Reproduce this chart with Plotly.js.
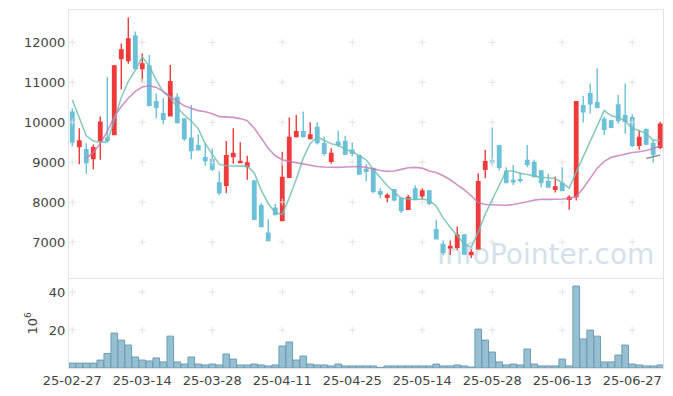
<!DOCTYPE html>
<html>
<head>
<meta charset="utf-8">
<script src="https://cdn.plot.ly/plotly-3.0.1.min.js"></script>
<style>html,body{margin:0;padding:0;background:#fff;}#chart{width:673px;height:396px;}</style>
</head>
<body>
<div id="chart"></div>
<script>
const dates = ["25-02-27","25-02-28","25-03-04","25-03-05","25-03-06","25-03-07","25-03-10","25-03-11","25-03-12","25-03-13",
"25-03-14","25-03-17","25-03-18","25-03-19","25-03-20","25-03-21","25-03-24","25-03-25","25-03-26","25-03-27",
"25-03-28","25-03-31","25-04-01","25-04-02","25-04-03","25-04-04","25-04-07","25-04-08","25-04-09","25-04-10",
"25-04-11","25-04-14","25-04-15","25-04-16","25-04-17","25-04-18","25-04-21","25-04-22","25-04-23","25-04-24",
"25-04-25","25-04-28","25-04-29","25-04-30","25-05-02","25-05-07","25-05-08","25-05-09","25-05-12","25-05-13",
"25-05-14","25-05-15","25-05-16","25-05-19","25-05-20","25-05-21","25-05-22","25-05-23","25-05-26","25-05-27",
"25-05-28","25-05-29","25-05-30","25-06-02","25-06-04","25-06-05","25-06-09","25-06-10","25-06-11","25-06-12",
"25-06-13","25-06-16","25-06-17","25-06-18","25-06-19","25-06-20","25-06-23","25-06-24","25-06-25","25-06-26",
"25-06-27","25-06-30","25-07-01","25-07-02","25-07-03"];

const openP = [10250,9390,9310,9090,9540,9600,9690,11590,11540,12160,
11340,11410,10510,10210,10160,10620,10080,9600,9410,9110,
9060,8480,8420,9140,8990,8890,8530,7910,7220,7850,
7540,8620,9640,9760,9590,9870,9460,9020,9500,9520,
9300,9160,8820,8840,8260,8120,8310,8090,7820,8330,
8160,8280,7310,6930,6860,6870,7180,6690,6830,8820,
9030,9410,8770,8540,8560,9040,8990,8780,8510,8320,
8470,8070,8140,10410,10710,10490,10070,10030,10430,10160,
10110,9420,9810,9470,9370];
const highP = [10350,9850,9470,9440,10140,11130,11430,11970,12620,12270,
11720,11680,10720,10600,11430,10720,10080,10430,9700,9460,
9350,8770,9530,9850,9500,9160,8530,7970,7570,7960,
9260,10120,10180,10270,10000,10000,9640,9350,9790,9660,
9490,9160,8960,8840,8350,8220,8330,8090,8180,8420,
8350,8310,7560,7040,7040,7390,7180,6820,8720,9310,
9870,9410,8870,8930,8740,9430,9060,8780,8710,8640,
8870,8170,10510,10660,10970,11350,10140,10060,10680,10970,
10200,9790,9850,9560,10010];
const lowP = [9390,8950,8710,8820,9060,9530,9680,10820,11460,11320,
10990,10390,10100,9950,10140,9970,9530,9070,9290,8910,
8780,8170,8220,8960,8970,8560,7570,7390,7040,7670,
7520,8620,9620,9620,9570,9440,9160,8960,9370,9180,
9140,8680,8520,8220,8100,8000,8020,7720,7810,8060,
8070,7930,7080,6680,6680,6810,6680,6600,6830,8600,
8910,8790,8470,8430,8490,8870,8620,8370,8380,8240,
8270,7810,8040,9990,10220,10350,9680,9850,9960,9710,
9370,9310,9420,8990,9320];
const closeP = [9500,9530,8990,9360,10000,9540,11410,11810,12080,11340,
11460,10420,10370,10070,11010,9990,9590,9290,9310,9040,
8830,8240,9160,9220,9020,8980,7570,7390,7040,7690,
8620,9620,9760,9640,9680,9490,9220,9220,9440,9200,
9220,8700,8770,8270,8200,8170,8060,7790,8120,8070,
8280,7970,7080,6740,6890,7170,6700,6740,8510,9010,
8990,8870,8490,8510,8540,8940,8640,8490,8380,8380,
8290,8120,10510,10260,10460,10370,9820,9870,10040,10020,
9420,9620,9450,9200,9950];

const maShort = [10560,10100,9660,9530,9500,9500,10060,10620,11020,11300,
11630,11400,11050,10750,10620,10360,10180,10030,9840,9460,
9200,8950,8910,8900,8900,8900,8730,8300,7960,7740,
7690,8110,8570,9100,9470,9630,9540,9460,9420,9320,
9260,9150,9060,8820,8610,8410,8250,8100,8080,8060,
8080,8050,7900,7600,7370,7160,6950,6870,7250,7700,
8050,8430,8780,8780,8720,8690,8650,8620,8610,8590,
8480,8350,8750,9130,9530,9930,10290,10160,10120,10030,
9840,9790,9710,9550,9540];

const maLong = [null,null,9100,9240,9470,9770,10140,10390,10600,10770,
10880,10910,10870,10770,10640,10520,10410,10350,10290,10260,
10210,10140,10130,10120,10090,10040,9850,9600,9350,9160,
9060,9020,8990,8960,8920,8890,8880,8870,8870,8880,
8890,8890,8870,8830,8790,8770,8780,8820,8860,8870,
8850,8780,8740,8660,8560,8430,8310,8160,7990,7940,
7930,7920,7920,7940,7970,8010,8050,8070,8070,8070,
8080,8090,8140,8350,8600,8850,9020,9120,9160,9200,
9240,9260,9290,9340,9410];

const maGray = new Array(82).fill(null).concat([9090,9130,9180]);

const volume = [2.6,2.6,2.6,2.6,4.2,7.7,18.4,14.7,12.1,5.8,
4.2,3.7,5.3,3.2,16.8,3.2,2.1,5.8,2.1,1.6,
2.1,1.6,7.4,4.7,1.6,1.6,2.1,1.6,1.1,1.6,
11.6,13.7,4.2,6.3,2.1,1.6,1.6,1.1,2.1,1.1,
1.1,1.1,1.1,1.1,0.3,1.1,1.1,1.1,1.1,1.1,
1.1,1.1,2.1,1.1,1.1,1.6,1.1,0.5,20.5,14.7,
8.4,3.2,1.6,2.1,1.6,10.0,2.1,1.1,1.1,1.1,
4.7,1.1,43.2,15.3,20.0,16.8,3.2,3.2,6.8,12.1,
2.1,1.6,1.1,1.1,1.6];

const tickLabels = ["25-02-27","25-03-14","25-03-28","25-04-11","25-04-25","25-05-14","25-05-28","25-06-13","25-06-27"];
const priceTicks = [7000,8000,9000,10000,11000,12000];
const volTicks = [20,40];

const RED = '#ee3a3a', BLUE = '#6cc0d8';
const font = {family:'DejaVu Sans, sans-serif', size:13, color:'#444'};

// grid "+" markers at tick intersections
const gx1=[], gy1=[], gx2=[], gy2=[];
tickLabels.forEach(t => { priceTicks.forEach(p => {gx1.push(t); gy1.push(p);}); volTicks.forEach(v => {gx2.push(t); gy2.push(v);}); });

const crossMarker = {symbol:'cross-thin-open', size:5, color:'#e2e2e2', line:{color:'#e2e2e2', width:1}};
const traces = [
  {type:'scatter', mode:'markers', x:gx1, y:gy1, xaxis:'x2', yaxis:'y', hoverinfo:'skip', marker:crossMarker},
  {type:'scatter', mode:'markers', x:gx2, y:gy2, xaxis:'x', yaxis:'y2', hoverinfo:'skip', marker:crossMarker},
  {type:'candlestick', x:dates, open:openP, high:highP, low:lowP, close:closeP, xaxis:'x2', yaxis:'y',
   increasing:{line:{color:RED, width:1.4}, fillcolor:RED},
   decreasing:{line:{color:BLUE, width:1.4}, fillcolor:BLUE}, whiskerwidth:0},
  {type:'scatter', mode:'lines', x:dates, y:maShort, xaxis:'x2', yaxis:'y', line:{color:'rgba(110,190,175,0.8)', width:1.6}, hoverinfo:'skip'},
  {type:'scatter', mode:'lines', x:dates, y:maLong, xaxis:'x2', yaxis:'y', line:{color:'rgba(195,120,185,0.8)', width:1.6}, hoverinfo:'skip'},
  {type:'scatter', mode:'lines', x:dates, y:maGray, xaxis:'x2', yaxis:'y', line:{color:'rgba(120,120,120,0.8)', width:1.6}, hoverinfo:'skip'},
  {type:'bar', x:dates, y:volume, xaxis:'x', yaxis:'y2', marker:{color:'#96bfd1', line:{color:'#6f9db6', width:1}}, hoverinfo:'skip'}
];

const xr = [-0.47, 84.4];
const layout = {
  width:673, height:396, showlegend:false,
  margin:{l:69, r:10, t:10, b:28},
  paper_bgcolor:'#fff', plot_bgcolor:'#fff', font:font, bargap:0.05,
  xaxis:{type:'category', categoryorder:'array', categoryarray:dates, anchor:'y2', domain:[0,1], range:xr,
    tickvals:tickLabels, ticktext:tickLabels,
    showgrid:false, zeroline:false, showline:true, mirror:true, linecolor:'#e3e3e3', ticks:'', tickfont:font,
    rangeslider:{visible:false}, fixedrange:true},
  xaxis2:{type:'category', categoryorder:'array', categoryarray:dates, anchor:'y', matches:'x', domain:[0,1], range:xr, showticklabels:false,
    showgrid:false, zeroline:false, showline:true, mirror:true, linecolor:'#e3e3e3', ticks:'',
    rangeslider:{visible:false}},
  yaxis:{anchor:'x2', domain:[0.252,1], range:[6107,12807], tickvals:priceTicks, ticktext:priceTicks.map(String),
    showgrid:false, zeroline:false, showline:true, mirror:true, linecolor:'#e3e3e3', ticks:'', tickfont:font},
  yaxis2:{anchor:'x', domain:[0,0.249], range:[0,47], tickvals:volTicks, ticktext:volTicks.map(String),
    showgrid:false, zeroline:false, showline:true, mirror:true, linecolor:'#e3e3e3', ticks:'', tickfont:font,
    title:{text:'10<sup>6</sup>', font:font, standoff:8}},
  shapes:[{type:'rect', xref:'paper', yref:'paper', x0:0.62, x1:0.985, y0:0.272, y1:0.372, layer:'below',
    line:{width:0}, fillcolor:'rgba(0,0,0,0)',
    label:{text:'InfoPointer.com', textposition:'middle center', font:{family:'DejaVu Sans, sans-serif', size:28, color:'#d3e2ea'}}}]
};

Plotly.newPlot('chart', traces, layout, {staticPlot:true, displayModeBar:false});
</script>
</body>
</html>
